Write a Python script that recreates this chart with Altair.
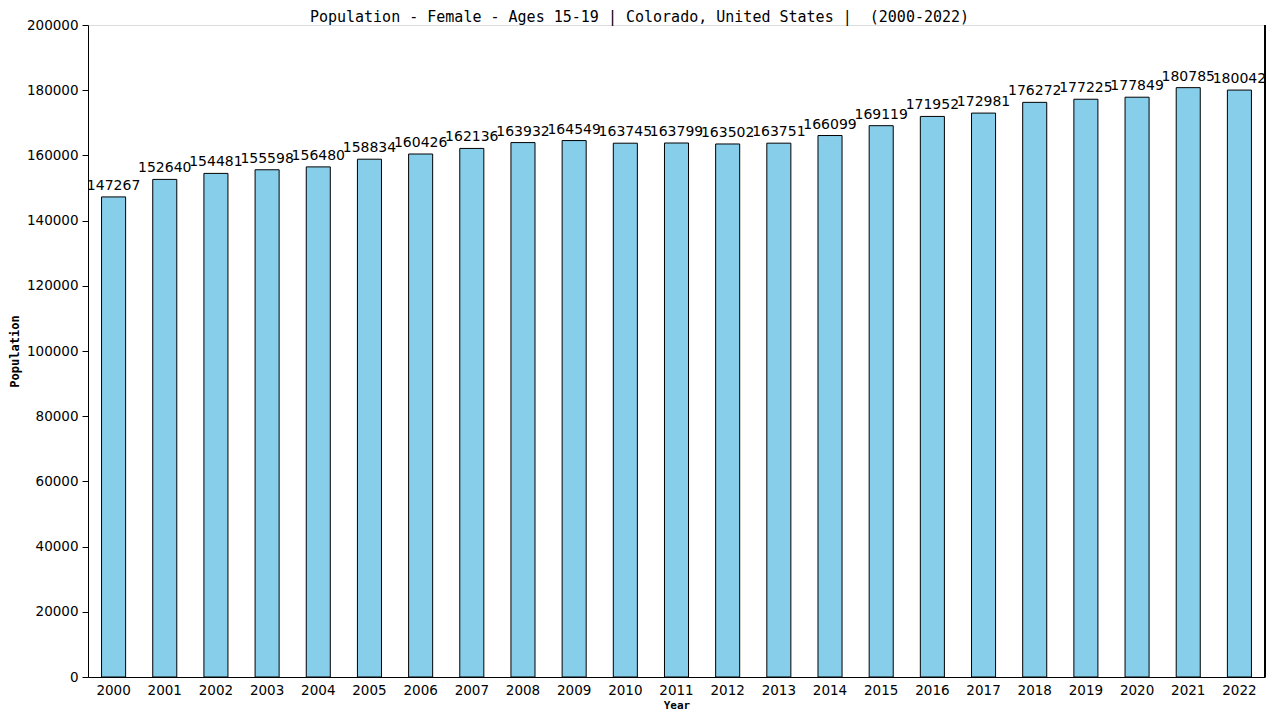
import altair as alt
import pandas as pd

years = [str(y) for y in range(2000, 2023)]
values = [147267, 152640, 154481, 155598, 156480, 158834, 160426, 162136, 163932, 164549,
          163745, 163799, 163502, 163751, 166099, 169119, 171952, 172981, 176272, 177225,
          177849, 180785, 180042]

df = pd.DataFrame({"Year": years, "Population": values})

W, H = 1177, 652

base = alt.Chart(df)

bars = base.mark_bar(fill="#87CEEB", stroke="black", strokeWidth=1).encode(
    x=alt.X("Year:N", sort=None,
            scale=alt.Scale(paddingInner=0.53, paddingOuter=0.265),
            axis=alt.Axis(title="Year", labelAngle=0, labelFont="DejaVu Sans", labelFontSize=13.5,
                          labelColor="black", titleFont="DejaVu Sans Mono", titleFontSize=11,
                          titleFontWeight="bold", titleColor="black", domainColor="black",
                          ticks=False, labelPadding=6, titlePadding=3)),
    y=alt.Y("Population:Q", scale=alt.Scale(domain=[0, 200000]),
            axis=alt.Axis(title="Population", values=list(range(0, 200001, 20000)), format="d",
                          grid=False, labelFont="DejaVu Sans", labelFontSize=13.5, labelColor="black",
                          titleFont="DejaVu Sans Mono", titleFontSize=12, titleFontWeight="bold",
                          titleColor="black", domainColor="black", tickColor="black", tickSize=6,
                          labelPadding=4, titlePadding=5)),
)

labels = base.mark_text(baseline="bottom", dy=-4, font="DejaVu Sans", fontSize=14, color="black").encode(
    x=alt.X("Year:N", sort=None),
    y="Population:Q",
    text=alt.Text("Population:Q", format="d"),
)

right = alt.Chart(df).mark_rule(color="black").encode(
    x=alt.value(W), y=alt.value(0), y2=alt.value(H)
)

chart = alt.layer(bars, labels, right).properties(
    width=W, height=H,
    padding={"left": 80, "top": 17, "right": 7, "bottom": 35},
    autosize=alt.AutoSizeParams(type="none"),
    title=alt.TitleParams("Population - Female - Ages 15-19 | Colorado, United States |\u00a0\u00a0(2000-2022)",
                          font="DejaVu Sans Mono", fontSize=15, fontWeight="normal", color="black",
                          offset=-7, dx=-37),
).configure_view(stroke=None).configure(background="white")

chart.save("out.html", embed_options={"renderer": "svg", "actions": False})
